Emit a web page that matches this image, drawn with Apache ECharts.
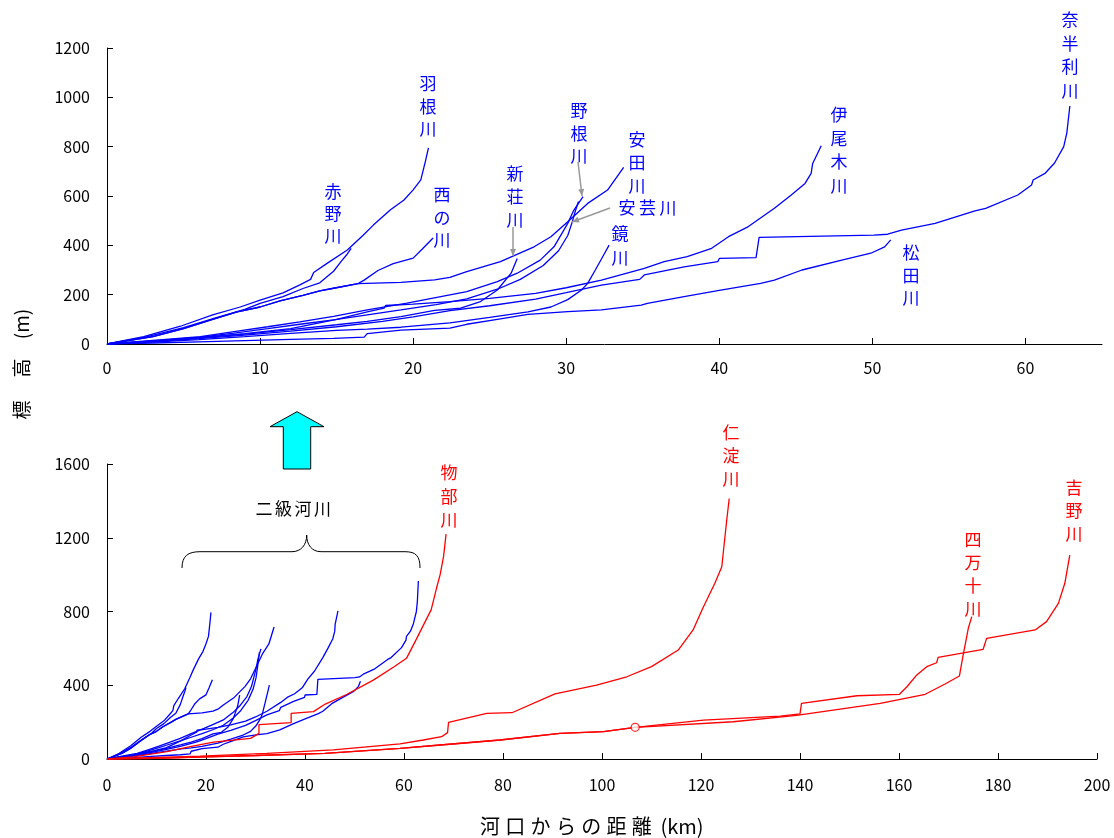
<!DOCTYPE html>
<html><head><meta charset="utf-8">
<script src="https://cdn.jsdelivr.net/npm/echarts@6/dist/echarts.min.js"></script>
<style>html,body{margin:0;padding:0;background:#fff}#c{width:1114px;height:838px}</style>
</head><body><div id="c"></div>
<script>
// ---- tick values ----
const topXTicks = [0,10,20,30,40,50,60];
const topYTicks = [0,200,400,600,800,1000,1200];
const botXTicks = [0,20,40,60,80,100,120,140,160,180,200];
const botYTicks = [0,400,800,1200,1600];

// ---- second-class rivers (blue): [distance km, elevation m] ----
const akano = [[0,0],[2.5,28],[5.0,66],[7.2,108],[9.0,140],[10.0,165],[11.5,192],[12.8,225],[13.9,248],[14.8,295],[15.3,335],[15.7,365],[15.95,388]];
const hane = [[0,0],[2.4,30],[4.8,72],[6.9,118],[8.7,150],[10.0,178],[11.5,207],[12.6,240],[13.3,262],[13.5,290],[14.4,328],[15.7,381],[16.75,442],[17.4,482],[18.5,543],[19.4,584],[20.0,625],[20.5,665],[20.8,740],[21.0,795]];
const nishinokawa = [[0,0],[3,30],[5,62],[6.9,100],[8.5,130],[10.0,150],[11.3,175],[12.8,197],[13.9,215],[14.8,226],[16.4,245],[16.8,259],[17.7,298],[18.7,326],[20.0,348],[20.6,385],[21.3,430]];
const shinjo = [[0,0],[3,12],[6,25],[9,40],[12,58],[15,78],[17,92],[19.2,111],[21.4,136],[23.1,145],[24.4,172],[25.5,219],[26.4,287],[26.8,347]];
const none_ = [[0,0],[3,15],[6.1,30],[8.3,50],[10.5,70],[12.6,90],[14.8,112],[17,138],[19.6,166],[22.4,199],[23.5,212],[25.5,253],[26.8,287],[28.3,340],[29.2,394],[30.1,489],[30.5,543],[31.1,597]];
const yasuda = [[0,0],[3,30],[5,62],[6.9,100],[8.5,130],[10.0,150],[11.3,175],[12.8,197],[13.9,215],[14.8,226],[16.4,245],[19.2,250],[21.4,260],[22.4,270],[23.5,293],[25.7,334],[27.9,394],[29.0,435],[30.1,496],[31.4,570],[32.7,624],[33.75,716]];
const aki = [[0,0],[3,13],[6,27],[8.3,44],[10.5,62],[12.6,80],[14.8,98],[17,118],[19.2,138],[21.5,160],[23.5,183],[25.5,222],[27,262],[28.5,318],[29.5,378],[30.1,440],[30.4,496],[30.6,540],[30.8,578]];
const kagami = [[0,0],[3,8],[6,18],[9,30],[12,43],[15,55],[17,60],[19.2,68],[22.4,86],[25,108],[27.5,130],[29,150],[30.1,180],[31.0,219],[31.4,246],[31.9,300],[32.5,367],[32.8,401]];
const ioki = [[0,0],[3,12],[6,26],[9,42],[12,62],[15,100],[17,130],[18.1,145],[18.2,156],[20,162],[22.4,172],[25,185],[28,205],[30,228],[32.3,259],[35.1,307],[36.4,334],[37.9,354],[39.5,388],[40.6,435],[41.9,476],[43.6,550],[44.7,604],[45.6,651],[46.0,692],[46.1,732],[46.66,804]];
const nahari = [[0,0],[3,10],[6,22],[9,36],[12,52],[15,70],[18,92],[20,110],[22.4,135],[25,155],[28,182],[30,208],[32.3,239],[34.8,262],[35.1,280],[37.7,313],[39.9,334],[40.0,347],[42.4,350],[42.6,432],[50.1,441],[51.0,445],[51.9,462],[54.1,489],[56.7,540],[57.4,550],[59.5,604],[60.4,645],[60.5,665],[61.3,693],[61.9,734],[62.5,800],[62.7,855],[62.9,965]];
const matsuda = [[0,0],[3,4],[6,9],[9,14],[12,19],[14.8,23],[16.8,28],[17.0,42],[19.2,56],[22.4,64],[23.5,80],[25.5,100],[27.5,120],[30.1,131],[32.3,138],[34.9,158],[35.3,165],[37.7,192],[39.9,216],[42.7,246],[43.6,259],[45.4,300],[48.0,340],[49.9,368],[50.8,394],[51.2,422]];

// ---- first-class rivers (red) ----
const monobe = [[0,0],[5.3,12],[12.1,40],[16.8,67],[21.5,92],[29.0,112],[30.7,139],[30.7,186],[37.2,197],[37.2,248],[41.7,257],[44.1,298],[48.4,350],[53.8,428],[58,500],[60.5,546],[62.5,650],[64,730],[65.5,810],[66.6,930],[67.3,1000],[68.0,1100],[68.5,1220]];
const niyodo = [[0,0],[18.8,16],[32.3,31],[45.7,49],[59.2,82],[63.9,103],[67.6,121],[68.8,143],[69.0,199],[76.7,248],[81.8,251],[90.5,353],[98.9,401],[105.0,446],[110.0,501],[115.4,591],[118.4,700],[120.5,826],[122.8,953],[124.2,1043],[125.2,1296],[125.7,1413]];
const shimanto = [[0,0],[10,4],[20,11],[30,19],[44,31],[59.2,58],[67.3,76],[79.4,103],[91.5,139],[100.3,148],[106.7,172],[126.5,202],[139.3,237],[156.2,302],[165.3,351],[169.3,407],[172.2,450],[172.9,555],[174.0,709],[174.7,772]];
const yoshino = [[0,0],[10,4],[20,11],[30,19],[44,31],[59.2,58],[67.3,76],[79.4,103],[91.5,139],[100.3,148],[106.7,172],[120.5,211],[136,233],[140.0,245],[140.3,302],[151.5,343],[160.1,351],[161.6,392],[163.6,456],[165.6,501],[167.6,522],[167.9,551],[177.0,595],[177.7,654],[187.5,700],[189.8,745],[192.2,844],[193.5,953],[194.5,1106]];
const junction = [[106.7,172]];

const FONT = '"Noto Sans CJK JP","Noto Sans",sans-serif';
const BLUE = '#0000ff', RED = '#ff0000';

const blueRivers = [akano,hane,nishinokawa,shinjo,none_,yasuda,aki,kagami,ioki,nahari,matsuda];
const redRivers = [monobe,niyodo,shimanto,yoshino];

const series = [];
blueRivers.forEach(d => {
  series.push({type:'line',xAxisIndex:0,yAxisIndex:0,data:d,showSymbol:false,symbol:'none',lineStyle:{color:BLUE,width:1.3},z:2,silent:true});
  series.push({type:'line',xAxisIndex:1,yAxisIndex:1,data:d,showSymbol:false,symbol:'none',lineStyle:{color:BLUE,width:1.3},z:2,silent:true});
});
redRivers.forEach(d => {
  series.push({type:'line',xAxisIndex:1,yAxisIndex:1,data:d,showSymbol:false,symbol:'none',lineStyle:{color:RED,width:1.3},z:3,silent:true});
});
series.push({type:'scatter',xAxisIndex:1,yAxisIndex:1,data:junction,symbol:'circle',symbolSize:8,itemStyle:{color:'#fff',borderColor:RED,borderWidth:1.3},z:4,silent:true});

function axisCommon(ticks, margin){
  return {
    axisLine:{show:true,onZero:false,lineStyle:{color:'#000',width:1}},
    axisTick:{show:true,inside:true,length:6,lineStyle:{color:'#000',width:1},customValues:ticks},
    axisLabel:{color:'#000',fontSize:16,fontFamily:FONT,margin:margin,customValues:ticks,formatter:function(v){return String(v);}},
    splitLine:{show:false}
  };
}

const graphics = [];
function vtext(x, y0, chars, color, step){
  step = step || 23;
  for (let i=0;i<chars.length;i++){
    graphics.push({type:'text',x:x,y:y0+i*step,style:{text:chars[i],fill:color,font:'17px '+FONT,textAlign:'center',textVerticalAlign:'middle'},z:10});
  }
}
function htext(x0, y, chars, color, step, size){
  for (let i=0;i<chars.length;i++){
    graphics.push({type:'text',x:x0+i*step,y:y,style:{text:chars[i],fill:color,font:(size||17)+'px '+FONT,textAlign:'center',textVerticalAlign:'middle'},z:10});
  }
}
function arrow(x1,y1,x2,y2,color){
  graphics.push({type:'line',shape:{x1:x1,y1:y1,x2:x2,y2:y2},style:{stroke:color,lineWidth:1.5},z:10});
  const a=Math.atan2(y2-y1,x2-x1), L=7, W=3;
  const bx=x2-L*Math.cos(a), by=y2-L*Math.sin(a);
  graphics.push({type:'polygon',shape:{points:[[x2,y2],[bx+W*Math.sin(a),by-W*Math.cos(a)],[bx-W*Math.sin(a),by+W*Math.cos(a)]]},style:{fill:color},z:10});
}

// river name labels (top)
vtext(333,192,['赤','野','川'],BLUE,22);
vtext(428,84,['羽','根','川'],BLUE,22.5);
vtext(442,195,['西','の','川'],BLUE,22.5);
vtext(515,174,['新','荘','川'],BLUE,23);
vtext(579,111,['野','根','川'],BLUE,22.5);
vtext(637,140,['安','田','川'],BLUE,23);
htext(627,208,['安','芸','川'],BLUE,20.5);
vtext(620,234,['鏡','川'],BLUE,23.5);
vtext(839,115,['伊','尾','木','川'],BLUE,23.5);
vtext(1070,20,['奈','半','利','川'],BLUE,23.5);
vtext(911,253,['松','田','川'],BLUE,22.5);
// leader arrows
arrow(513,227,513,256,'#999');
arrow(578,162,582,196,'#999');
arrow(610,208,572,222,'#999');

// red labels (bottom)
vtext(449,473,['物','部','川'],RED,23.5);
vtext(731,433,['仁','淀','川'],RED,23);
vtext(973,540,['四','万','十','川'],RED,23);
vtext(1074,488,['吉','野','川'],RED,23);

// 二級河川 + brace + arrow
htext(264,509,['二','級','河','川'],'#000',19.5,17);
const br = {stroke:'#000',lineWidth:1,fill:null};
graphics.push({type:'bezierCurve',shape:{x1:182,y1:568,cpx1:182,cpy1:556,cpx2:188,cpy2:551.7,x2:200,y2:551.7},style:br});
graphics.push({type:'line',shape:{x1:200,y1:551.7,x2:292,y2:551.7},style:br});
graphics.push({type:'bezierCurve',shape:{x1:292,y1:551.7,cpx1:301,cpy1:551.7,cpx2:306.7,cpy2:545,x2:306.7,y2:535},style:br});
graphics.push({type:'bezierCurve',shape:{x1:306.7,y1:535,cpx1:306.7,cpy1:545,cpx2:312,cpy2:551.7,x2:321,y2:551.7},style:br});
graphics.push({type:'line',shape:{x1:321,y1:551.7,x2:405,y2:551.7},style:br});
graphics.push({type:'bezierCurve',shape:{x1:405,y1:551.7,cpx1:416,cpy1:551.7,cpx2:420,cpy2:556,x2:420,y2:568},style:br});
graphics.push({type:'polygon',shape:{points:[[297,411.7],[324,426.7],[310.7,426.7],[310.7,469],[283.3,469],[283.3,426.7],[270,426.7]]},style:{fill:'#00ffff',stroke:'#000',lineWidth:1},z:10});

// axis titles
htext(490,826,['河','口','か','ら','の','距','離'],'#000',25.3,20);
graphics.push({type:'text',x:682,y:826,style:{text:'(km)',fill:'#000',font:'20px '+FONT,textAlign:'center',textVerticalAlign:'middle'}});
// vertical y title (rotated, reads bottom-to-top)
[['標',410],['高',368],['(m)',324]].forEach(function(p){
  graphics.push({type:'text',x:22,y:p[1],rotation:Math.PI/2,style:{text:p[0],fill:'#000',font:'19px '+FONT,textAlign:'center',textVerticalAlign:'middle'}});
});

const chart = echarts.init(document.getElementById('c'),null,{renderer:'canvas'});
chart.setOption({
  animation:false,
  backgroundColor:'#fff',
  grid:[{left:107,right:12,top:48,height:296,containLabel:false},{left:107,right:17,top:464,height:295,containLabel:false}],
  xAxis:[
    Object.assign({type:'value',gridIndex:0,min:0,max:65,interval:10},axisCommon(topXTicks,16)),
    Object.assign({type:'value',gridIndex:1,min:0,max:200,interval:20},axisCommon(botXTicks,18))
  ],
  yAxis:[
    Object.assign({type:'value',gridIndex:0,min:0,max:1200,interval:200},axisCommon(topYTicks,17)),
    Object.assign({type:'value',gridIndex:1,min:0,max:1600,interval:400},axisCommon(botYTicks,17))
  ],
  series:series,
  graphic:graphics
});
</script></body></html>
